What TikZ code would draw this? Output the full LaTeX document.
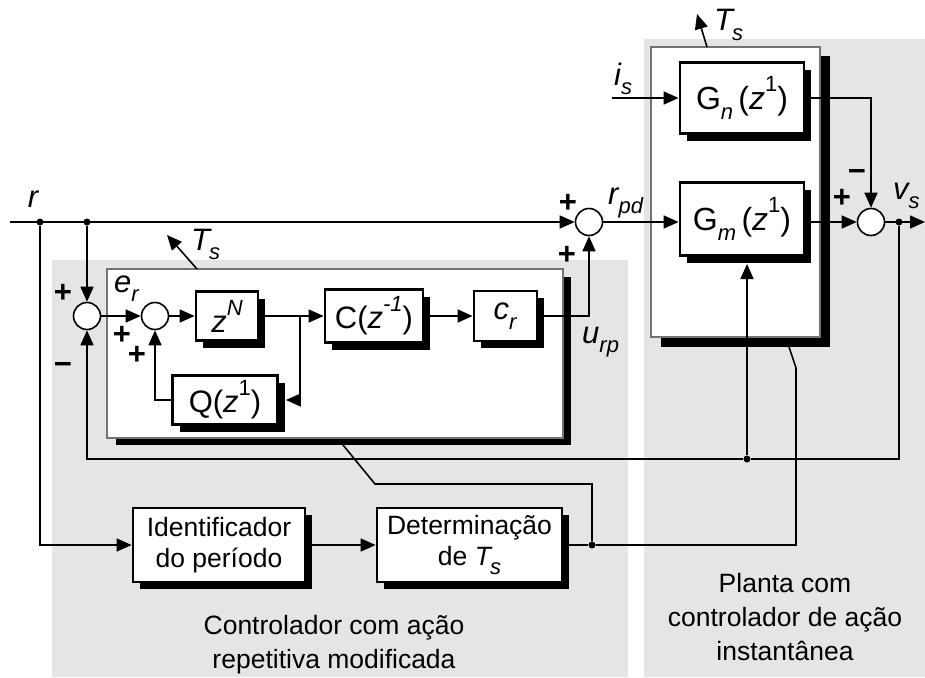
\documentclass[tikz,border=0pt]{standalone}
\usepackage{fontspec}
\setmainfont{Liberation Sans}
\usetikzlibrary{arrows.meta,shadows,calc}
\newcommand{\Lsub}[1]{\raisebox{-0.32em}{\fontsize{22}{22}\selectfont #1}}
\newcommand{\Lsup}[1]{\raisebox{0.55em}{\fontsize{22}{22}\selectfont #1}}
\definecolor{panelgray}{gray}{0.9}
\definecolor{framegray}{gray}{0.45}
\begin{document}
\begin{tikzpicture}[x=1pt,y=-1pt,
  txt/.style={font=\fontsize{26.5}{34}\selectfont, align=center},
  lab/.style={font=\fontsize{31}{34}\selectfont\itshape, inner sep=0pt},
  sgn/.style={font=\fontsize{31}{30}\selectfont\bfseries, inner sep=0pt},
  blk/.style={draw, line width=2.8pt, fill=white, inner sep=0pt, font=\fontsize{31}{34}\selectfont,
    drop shadow={shadow xshift=7pt, shadow yshift=-7pt, fill=black, opacity=1}},
  frm/.style={draw=framegray, line width=1.2pt, fill=white, inner sep=0pt, outer sep=0pt, anchor=north west},
  sumnode/.style={circle, draw, line width=1.6pt, fill=white, minimum size=27pt, inner sep=0pt},
  dot/.style={circle, fill=black, inner sep=0pt, minimum size=7pt},
  sig/.style={line width=1.6pt},
  arr/.style={sig, -{Triangle[length=15pt,width=13pt]}},
]
\useasboundingbox (0,0) rectangle (925,677);
% panels
\fill[panelgray] (52,260) rectangle (628,677);
\fill[panelgray] (644,39) rectangle (925,677);
% frames
\fill[black] (116,277) rectangle (571,445);
\node[frm, minimum width=456pt, minimum height=169pt] (cframe) at (107,269) {};
\fill[black] (661,56) rectangle (830,347);
\node[frm, minimum width=169pt, minimum height=290pt] (pframe) at (651,47) {};

% summing junctions
\node[sumnode] (S1) at (87,316) {};
\node[sumnode] (S2) at (155,316) {};
\node[sumnode] (S3) at (589,222) {};
\node[sumnode] (S4) at (871,222) {};

% blocks
\node[blk, minimum width=62pt, minimum height=49pt] (zN) at (227,316) {\textit{z}\Lsup{\textit{N}}};
\node[blk, minimum width=98pt, minimum height=53pt] (C) at (374,316) {C(\textit{z}\Lsup{\textit{-1}})};
\node[blk, minimum width=105pt, minimum height=49pt] (Q) at (225,400) {Q(\textit{z}\Lsup{1})};
\node[blk, minimum width=63pt, minimum height=50pt] (cr) at (505.5,316) {\textit{c}\Lsub{\textit{r}}};
\node[blk, minimum width=124pt, minimum height=71pt, font=\fontsize{32}{34}\selectfont] (Gn) at (742,98) {G\Lsub{\textit{n}}\,(\textit{z}\Lsup{1})};
\node[blk, minimum width=124pt, minimum height=73pt, font=\fontsize{32}{34}\selectfont] (Gm) at (742,219) {G\Lsub{\textit{m}}\,(\textit{z}\Lsup{1})};
\node[blk, txt, minimum width=172pt, minimum height=74pt, font=\fontsize{26.5}{31}\selectfont] (Id) at (219,545) {Identificador\\do período};
\node[blk, txt, minimum width=185pt, minimum height=74pt, font=\fontsize{26.5}{31}\selectfont] (Det) at (469.5,545) {Determinação\\de \textit{T\kern-1pt\Lsub{s}}};

% dots and coordinates
\coordinate (rin) at (10,222);
\node[dot] (d1) at (40,222) {};
\node[dot] (d2) at (87,222) {};
\coordinate (br) at (300,316);
\coordinate (is) at (612,98);
\coordinate (out) at (925,222);
\node[dot] (d3) at (899,222) {};
\node[dot] (d4) at (747,459) {};
\coordinate (gmin) at (747,264);
\node[dot] (d5) at (592,545) {};
\coordinate (c1) at (343,445);
\coordinate (p1) at (789,347);
\coordinate (t1) at (197,269);
\coordinate (t1h) at (167,235);
\coordinate (t2) at (707,47);
\coordinate (t2h) at (697,14);

% connectors
\draw[arr] (rin) -- (S3);
\draw[arr] (d1) |- (Id);
\draw[arr] (d2) -- (S1);
\draw[arr] (S1) -- (S2);
\draw[arr] (S2) -- (zN);
\draw[arr] (zN) -- (C);
\draw[arr] (br) |- ([xshift=7pt]Q.east);
\draw[arr] (Q.west) -| (S2);
\draw[arr] (C) -- (cr);
\draw[arr] (cr.east) -| (S3);
\draw[arr] (S3) -- (S3 -| Gm.west);
\draw[arr] (Gm.east |- S4) -- (S4);
\draw[arr] (Gn.east) -| (S4);
\draw[arr] (is) -- (is -| Gn.west);
\draw[arr] (S4) -- (out);
\draw[arr] (d3) |- (d4) -| (S1);
\draw[arr] (d4) -- (gmin);
\draw[arr] (Id) -- (Det);
\draw[sig] (Det.east) -- (d5);
\draw[sig] (d5) -- (592,484) -- (375,484) -- (c1);
\draw[sig] (d5) -- (796,545) -- (796,368) -- (p1);
\draw[arr] (t1) -- (t1h);
\draw[arr] (t2) -- (t2h);

% labels
\node[lab, anchor=base] at (33,207) {r};
\node[lab, anchor=base west] at (114,292) {e\Lsub{r}};
\node[lab, anchor=base west] at (191,250) {T\kern-1pt\Lsub{s}};
\node[lab, anchor=base west] at (714,31) {T\kern-1pt\Lsub{s}};
\node[lab, anchor=base west] at (582,343) {u\Lsub{rp}};
\node[lab, anchor=base west] at (608,204) {r\Lsub{pd}};
\node[lab, anchor=base west] at (614,85) {i\Lsub{s}};
\node[lab, anchor=base west] at (893,199) {v\Lsub{s}};

% signs
\node[sgn] at (63,293) {+};
\node[sgn] at (63,368) {−};
\node[sgn] at (122,335) {+};
\node[sgn] at (137,355) {+};
\node[sgn] at (568,203) {+};
\node[sgn] at (567,255) {+};
\node[sgn] at (842,198) {+};
\node[sgn] at (857,175) {−};

% captions
\node[txt] at (334,645) {Controlador com ação\\repetitiva modificada};
\node[txt] at (785,617) {Planta com\\controlador de ação\\instantânea};
\end{tikzpicture}
\end{document}
